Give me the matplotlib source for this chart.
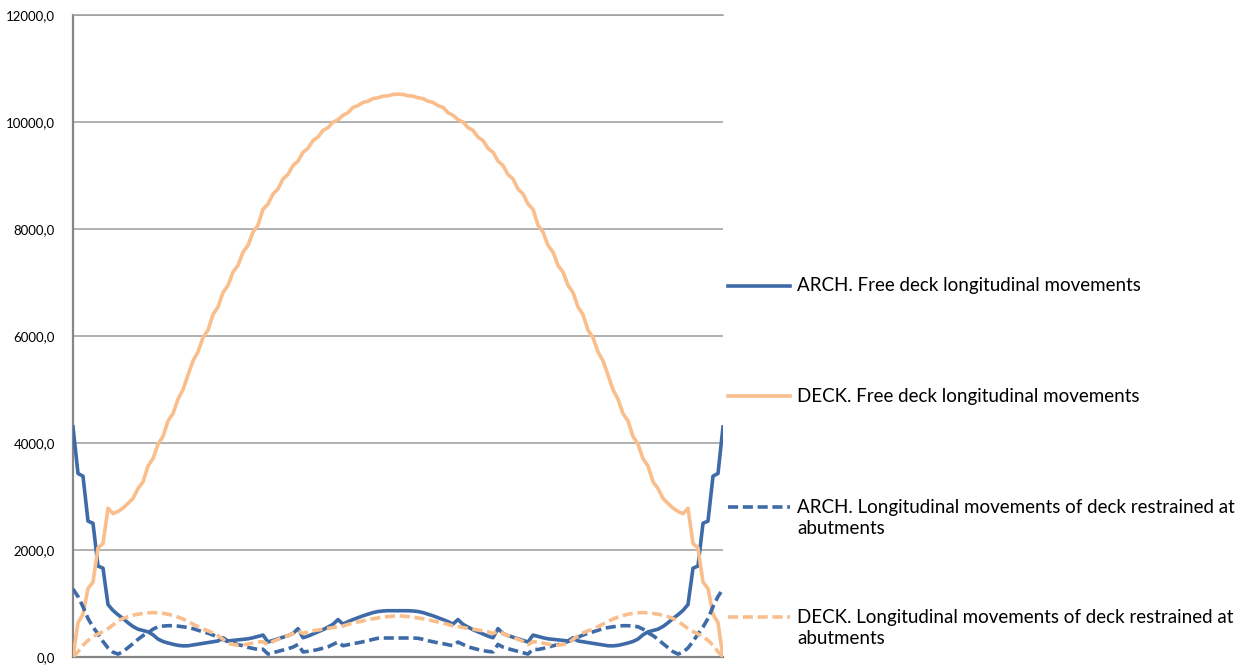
import numpy as np
import matplotlib
matplotlib.use("Agg")
import matplotlib.pyplot as plt
from matplotlib.lines import Line2D
from matplotlib.ticker import FuncFormatter, MultipleLocator

plt.rcParams['font.family'] = ['Lato', 'DejaVu Sans']

# Longitudinal movements along the span (one value per station)
arch_free = [
    4300, 3430, 3380, 2540, 2500, 1700, 1660, 980, 870, 790,
    720, 640, 570, 520, 495, 470, 415, 335, 290, 262,
    238, 218, 208, 210, 225, 240, 255, 268, 285, 300,
    360, 300, 310, 320, 330, 340, 360, 385, 410, 280,
    310, 340, 370, 400, 440, 530, 360, 390, 430, 470,
    510, 560, 610, 700, 615, 660, 700, 735, 770, 800,
    830, 850, 860, 865, 865, 865,
    865, 865, 860, 850, 830, 800, 770, 735, 700, 660,
    615, 700, 610, 560, 510, 470, 430, 390, 360, 530,
    440, 400, 370, 340, 310, 280, 410, 385, 360, 340,
    330, 320, 310, 300, 360, 300, 285, 268, 255, 240,
    225, 210, 208, 218, 238, 262, 290, 335, 415, 470,
    495, 520, 570, 640, 720, 790, 870, 980, 1660, 1700,
    2500, 2540, 3380, 3430, 4300,
]

deck_free = [
    0, 640, 800, 1280, 1400, 2040, 2120, 2780, 2680, 2720,
    2785, 2870, 2965, 3149, 3275, 3570, 3707, 3978, 4122, 4413,
    4549, 4819, 4997, 5270, 5536, 5703, 5972, 6109, 6400, 6544,
    6813, 6946, 7195, 7320, 7568, 7693, 7942, 8072, 8368, 8468,
    8655, 8748, 8936, 9020, 9186, 9269, 9434, 9508, 9654, 9718,
    9843, 9895, 9999, 10042, 10125, 10174, 10274, 10306, 10366, 10390,
    10437, 10453, 10483, 10490, 10515, 10520,
    10515, 10490, 10483, 10453, 10437, 10390, 10366, 10306, 10274, 10174,
    10125, 10042, 9999, 9895, 9843, 9718, 9654, 9508, 9434, 9269,
    9186, 9020, 8936, 8748, 8655, 8468, 8368, 8072, 7942, 7693,
    7568, 7320, 7195, 6946, 6813, 6544, 6400, 6109, 5972, 5703,
    5536, 5270, 4997, 4819, 4549, 4413, 4122, 3978, 3707, 3570,
    3275, 3149, 2965, 2870, 2785, 2720, 2680, 2780, 2120, 2040,
    1400, 1280, 800, 640, 0,
]

arch_restrained = [
    1270, 1130, 940, 720, 560, 430, 290, 170, 90, 55,
    100, 175, 250, 330, 400, 450, 520, 565, 578, 585,
    585, 578, 565, 550, 530, 500, 470, 445, 410, 370,
    320, 290, 260, 230, 210, 180, 160, 140, 145, 55,
    80, 105, 130, 155, 185, 235, 95, 105, 120, 140,
    165, 190, 235, 280, 210, 230, 250, 265, 285, 305,
    330, 350, 355, 355, 355, 355,
    355, 355, 355, 350, 330, 305, 285, 265, 250, 230,
    210, 280, 235, 190, 165, 140, 120, 105, 95, 235,
    185, 155, 130, 105, 80, 55, 145, 140, 160, 180,
    210, 230, 260, 290, 320, 370, 410, 445, 470, 500,
    530, 550, 565, 578, 585, 585, 578, 565, 520, 450,
    400, 330, 250, 175, 100, 55, 90, 170, 290, 430,
    560, 720, 940, 1130, 1270,
]

deck_restrained = [
    0, 100, 220, 310, 380, 430, 475, 530, 600, 670,
    720, 755, 780, 800, 815, 825, 830, 825, 815, 800,
    775, 745, 710, 665, 615, 565, 520, 490, 450, 400,
    330, 255, 235, 220, 225, 240, 260, 280, 285, 230,
    290, 330, 365, 400, 440, 485, 440, 470, 490, 505,
    520, 535, 550, 570, 580, 610, 635, 655, 675, 700,
    715, 730, 745, 755, 765, 770,
    765, 755, 745, 730, 715, 700, 675, 655, 635, 610,
    580, 570, 550, 535, 520, 505, 490, 470, 440, 485,
    440, 400, 365, 330, 290, 230, 285, 280, 260, 240,
    225, 220, 235, 255, 330, 400, 450, 490, 520, 565,
    615, 665, 710, 745, 775, 800, 815, 825, 830, 825,
    815, 800, 780, 755, 720, 670, 600, 530, 475, 430,
    380, 310, 220, 100, 0,
]

labels = [
    "ARCH. Free deck longitudinal movements",
    "DECK. Free deck longitudinal movements",
    "ARCH. Longitudinal movements of deck restrained at\nabutments",
    "DECK. Longitudinal movements of deck restrained at\nabutments",
]

BLUE = "#3E6BA8"
ORANGE = "#F9BE8C"
LW = 2.6
DASH = (2.8, 1.3)

series = [
    (arch_free, BLUE, None),
    (deck_free, ORANGE, None),
    (arch_restrained, BLUE, DASH),
    (deck_restrained, ORANGE, DASH),
]

W, H = 1247, 669
fig = plt.figure(figsize=(W / 100, H / 100), dpi=100)
ax = fig.add_axes([73 / W, (H - 657) / H, (723 - 73) / W, (657 - 15) / H])

for values, color, dash in series:
    x = np.arange(len(values))
    line, = ax.plot(x, values, color=color, lw=LW, solid_joinstyle='round',
                    dash_capstyle='butt', zorder=3)
    if dash is not None:
        line.set_dashes(dash)

n = len(arch_free)
ax.set_xlim(0, n - 1)
ax.set_ylim(0, 12000)
ax.yaxis.set_major_locator(MultipleLocator(2000))
ax.yaxis.set_major_formatter(FuncFormatter(lambda v, p: f"{v:.1f}".replace(".", ",")))
ax.set_xticks([])
ax.grid(axis='y', color='#9c9c9c', lw=1.1)
ax.set_axisbelow(True)
ax.tick_params(axis='y', length=0, pad=13, labelsize=9.5, labelcolor='black')

ax.spines['right'].set_visible(False)
ax.spines['top'].set_color('#9c9c9c')
ax.spines['top'].set_linewidth(1.1)
for side in ('left', 'bottom'):
    ax.spines[side].set_color('#868686')
    ax.spines[side].set_linewidth(1.6)

# Legend drawn beside the plot, marker aligned with the first text line
legend_rows = [286, 396, 507, 617]
for (values, color, dash), label, ypx in zip(series, labels, legend_rows):
    yf = 1 - ypx / H
    handle = Line2D([728 / W, 790 / W], [yf, yf], color=color, lw=LW,
                    dash_capstyle='butt', transform=fig.transFigure)
    if dash is not None:
        handle.set_dashes(dash)
    fig.add_artist(handle)
    for k, text_line in enumerate(label.split("\n")):
        fig.text(797 / W, 1 - (ypx + 21 * k) / H, text_line, ha='left', va='center',
                 fontsize=13.5, color='black')

fig.savefig("out.png", dpi=100)
